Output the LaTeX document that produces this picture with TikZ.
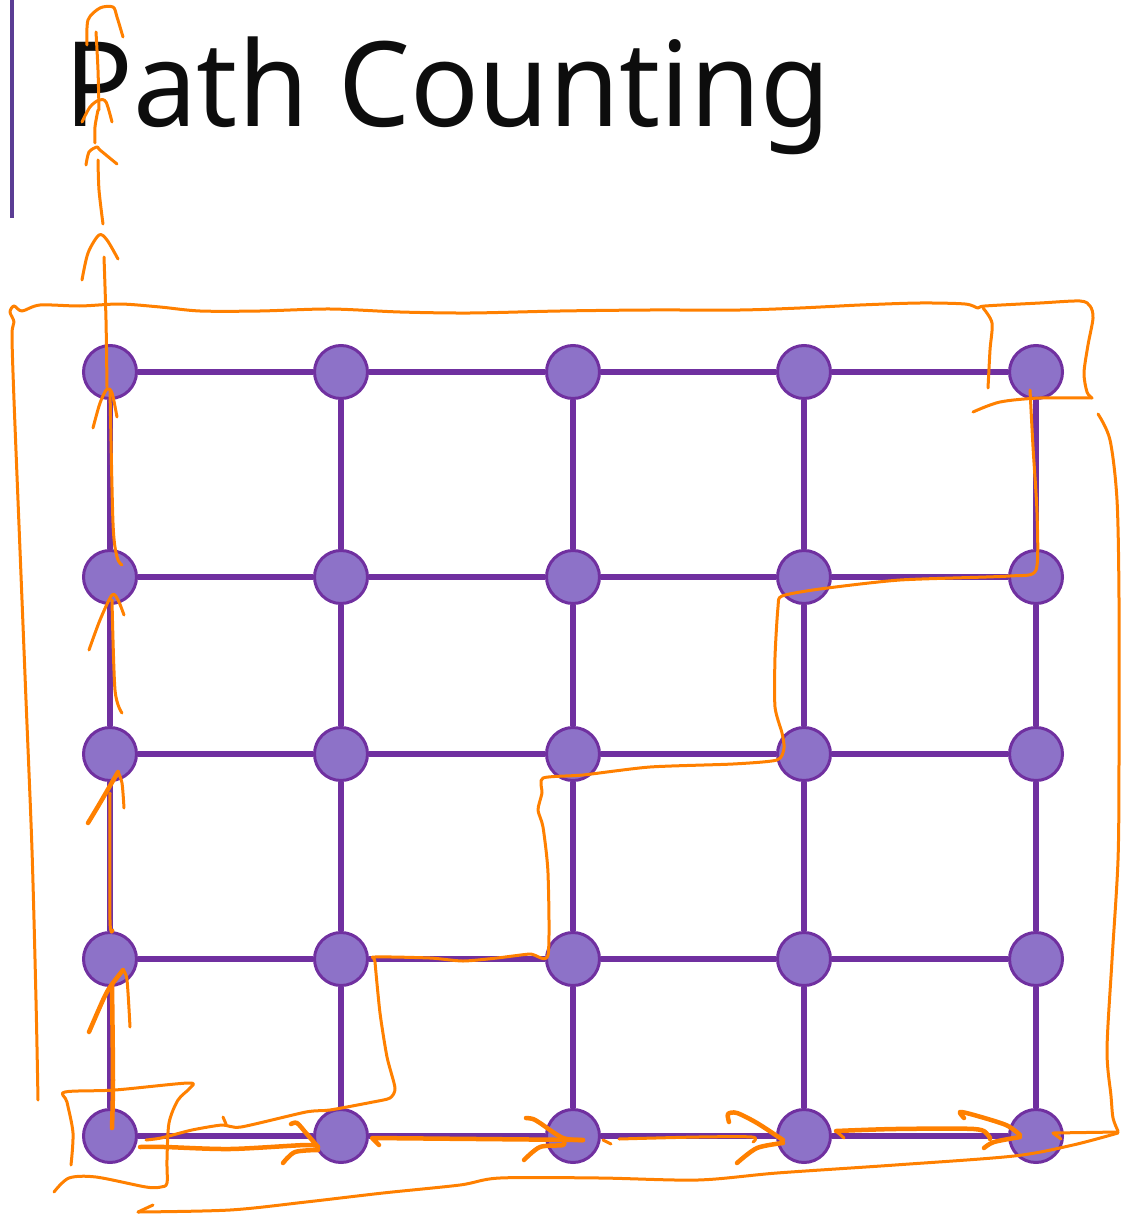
\documentclass[tikz,border=0pt]{standalone}
\usepackage{fontspec}
\setmainfont{Noto Sans}
\usepackage{tikz}
\usetikzlibrary{backgrounds}
\definecolor{gridline}{RGB}{112,48,160}
\definecolor{gridfill}{RGB}{141,114,200}
\definecolor{inkorange}{RGB}{255,128,0}
\definecolor{titlebar}{RGB}{91,61,148}
\definecolor{titletext}{RGB}{13,13,13}
\begin{document}
\begin{tikzpicture}[
  x=1pt, y=-1pt,
  vertex/.style={
    circle,
    draw=gridline,
    fill=gridfill,
    line width=3pt,
    minimum size=53pt,
    inner sep=0pt
  },
  edge/.style={line width=6.5pt, draw=gridline},
  ink/.style={line width=3pt, draw=inkorange, line cap=round, line join=round},
  heavyink/.style={ink, line width=4.5pt},
  every node/.style={font=\small}
]
\useasboundingbox (0,0) rectangle (1120,1214);

% title
\draw[titlebar, line width=4pt] (12,0) -- (12,218);
\node[anchor=base west, inner sep=0pt, text=titletext,
  font=\fontsize{118}{130}\selectfont] (title) at (64,127) {\scalebox{0.965}[1]{Path Counting}};

% grid of vertices
\foreach \c/\x in {1/110,2/341,3/573,4/804,5/1036}
  \foreach \r/\y in {1/372,2/577,3/754,4/959,5/1136}
    \node[vertex] (v\c\r) at (\x,\y) {};

\begin{scope}[on background layer]
\foreach \c/\n in {1/2,2/3,3/4,4/5}
  \foreach \r in {1,...,5}
    \draw[edge] (v\c\r) -- (v\n\r);
\foreach \r/\n in {1/2,2/3,3/4,4/5}
  \foreach \c in {1,...,5}
    \draw[edge] (v\c\r) -- (v\c\n);
\end{scope}

% outer loop
\draw[ink] plot[smooth, tension=0.5] coordinates {(38,1100) (36,1000) (32,850) (26,700)
  (20,550) (14,400) (12,335) (14,322) (10,312) (14,306) (22,311) (40,305) (80,306)
  (120,304) (160,307) (200,311) (260,311) (330,309) (400,312) (470,313) (560,311)
  (650,310) (740,310) (800,308) (860,305) (920,303) (965,304) (978,308) (985,306)
  (1040,303) (1080,301) (1090,306) (1093,318) (1088,345) (1084,373) (1087,392) (1092,398)};
\draw[ink] plot[smooth, tension=0.5] coordinates {(1092,398) (1040,398) (1000,402) (973,412)};
\draw[ink] plot[smooth, tension=0.5] coordinates {(983,308) (992,323) (990,350) (988,388)};
\draw[ink] plot[smooth, tension=0.5] coordinates {(1098,414) (1110,440) (1117,500)
  (1119,600) (1119,760) (1118,860) (1112,960) (1107,1050) (1111,1096) (1113,1118) (1118,1131)};
\draw[ink] (1118,1132) -- (1053,1133) -- (1061,1139);
\draw[ink] plot[smooth, tension=0.5] coordinates {(1118,1133) (1073,1145) (1014,1156)
  (895,1165) (777,1173) (698,1180) (600,1178) (500,1178) (460,1185) (383,1193)
  (306,1202) (230,1210) (138,1212)};
\draw[ink] (138,1212) -- (153,1205);

% staircase path
\draw[ink] plot[smooth, tension=0.4] coordinates {(1030,390) (1033,447) (1037,513)
  (1036,570) (1010,576) (900,580) (820,589) (782,596) (778,607) (775,657) (775,707)
  (782,733) (784,748) (777,760) (733,764) (650,767) (583,775) (543,778) (542,793)
  (538,810) (543,827) (548,873) (548,955) (530,954) (497,958) (463,961) (430,958)
  (375,957) (375,962) (380,1013) (387,1057) (395,1088) (390,1098) (373,1102) (330,1110)
  (306,1112) (241,1127) (222,1125) (192,1130) (161,1138) (146,1140)};
\draw[ink] (223,1117) -- (226,1124);

% bracket round the start
\draw[ink] plot[smooth, tension=0.5] coordinates {(71,1165) (73,1133) (67,1102) (65,1092)
  (115,1090) (188,1083) (190,1088) (178,1100) (169,1123) (167,1160) (167,1183)
  (161,1187) (146,1187) (96,1177) (69,1178) (54,1192)};

% bottom row arrows
\draw[heavyink] plot[smooth, tension=0.5] coordinates {(140,1147) (165,1147) (230,1149) (306,1145) (318,1147)};
\draw[heavyink] plot[smooth, tension=0.5] coordinates {(291,1124) (297,1123) (306,1133) (318,1147)};
\draw[heavyink] plot[smooth, tension=0.5] coordinates {(283,1163) (295,1152) (318,1150)};
\draw[heavyink] (379,1145) -- (372,1138) -- (583,1140);
\draw[heavyink] plot[smooth, tension=0.5] coordinates {(526,1118) (533,1119) (540,1123) (563,1138) (583,1140)};
\draw[heavyink] plot[smooth, tension=0.5] coordinates {(524,1160) (540,1147) (563,1145) (563,1140)};
\draw[ink] (611,1144) -- (603,1140);
\draw[ink] plot[smooth, tension=0.5] coordinates {(619,1139) (698,1137) (752,1137) (753,1142)};
\draw[heavyink] plot[smooth, tension=0.5] coordinates {(729,1122) (728,1114) (737,1113) (757,1123) (783,1140)};
\draw[heavyink] plot[smooth, tension=0.5] coordinates {(737,1163) (757,1148) (783,1143)};
\draw[ink] (844,1138) -- (836,1131);
\draw[heavyink] plot[smooth, tension=0.5] coordinates {(836,1131) (895,1129) (974,1129) (988,1135) (990,1139)};
\draw[heavyink] plot[smooth, tension=0.5] coordinates {(964,1118) (960,1112) (974,1115) (1006,1125) (1020,1135)};
\draw[heavyink] plot[smooth, tension=0.5] coordinates {(984,1148) (994,1142) (1020,1137)};

% left column arrows
\draw[heavyink] plot[smooth, tension=0.5] coordinates {(112,1128) (113,1080) (112,985)};
\draw[heavyink] plot[smooth, tension=0.5] coordinates {(89,1032) (103,1000) (110,987) (123,970)};
\draw[ink] plot[smooth, tension=0.5] coordinates {(123,970) (127,980) (130,1027)};
\draw[ink] plot[smooth, tension=0.5] coordinates {(113,930) (110,920) (110,793)};
\draw[heavyink] plot[smooth, tension=0.5] coordinates {(88,823) (100,803) (118,772)};
\draw[ink] plot[smooth, tension=0.5] coordinates {(118,772) (122,783) (124,808)};
\draw[ink] plot[smooth, tension=0.5] coordinates {(122,713) (115,690) (112,600)};
\draw[ink] plot[smooth, tension=0.5] coordinates {(89,650) (100,620) (112,595) (118,600) (124,615)};
\draw[ink] plot[smooth, tension=0.5] coordinates {(122,565) (117,557) (113,523) (110,390)};
\draw[ink] plot[smooth, tension=0.5] coordinates {(93,428) (100,403) (107,389) (112,393) (117,417)};
\draw[ink] plot[smooth, tension=0.5] coordinates {(107,387) (106,320) (104,257)};
\draw[ink] plot[smooth, tension=0.5] coordinates {(82,280) (88,253) (99,235) (107,240) (118,259)};
\draw[ink] plot[smooth, tension=0.5] coordinates {(103,224) (99,190) (98,160)};
\draw[ink] plot[smooth, tension=0.5] coordinates {(86,165) (89,152) (97,147) (100,150) (117,164)};
\draw[ink] plot[smooth, tension=0.5] coordinates {(95,143) (95,127) (98,110)};
\draw[ink] plot[smooth, tension=0.5] coordinates {(82,122) (90,107) (99,100) (106,102) (112,122)};
\draw[ink] plot[smooth, tension=0.5] coordinates {(99,110) (98,70) (96,32)};
\draw[ink] plot[smooth, tension=0.5] coordinates {(87,45) (88,20) (100,8) (113,7) (117,17) (123,37)};
\end{tikzpicture}
\end{document}
